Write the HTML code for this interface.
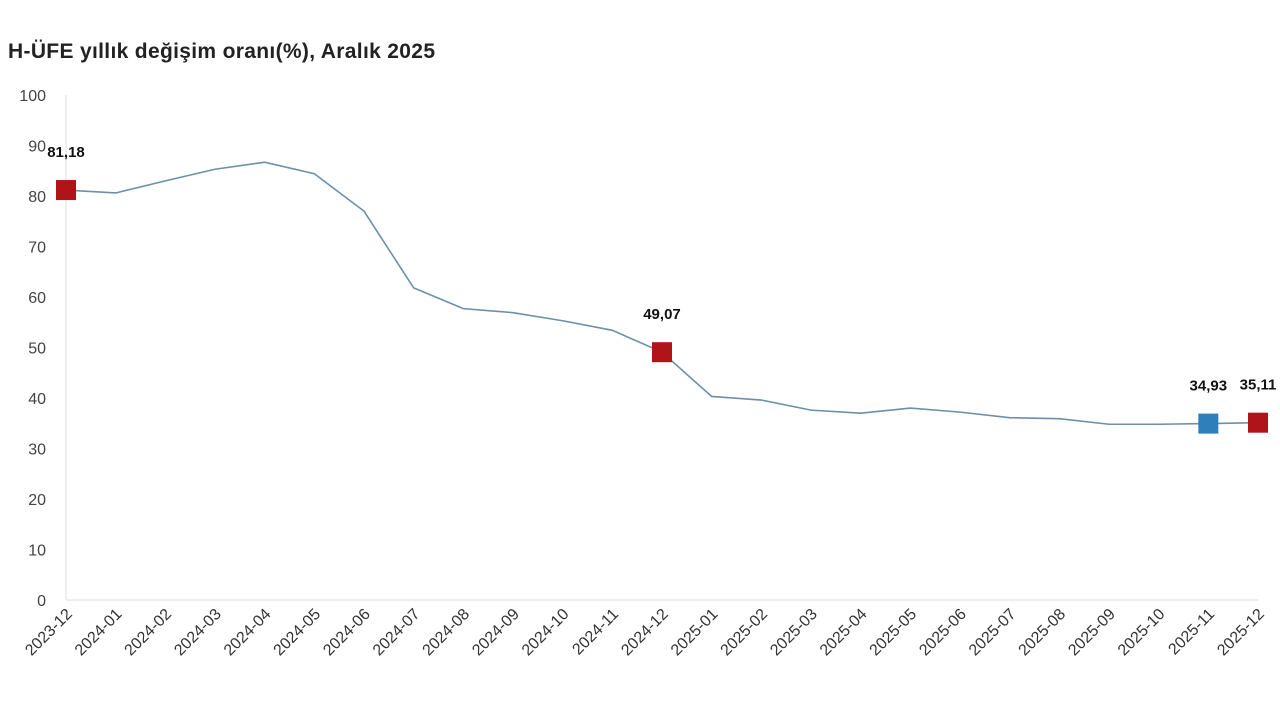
<!DOCTYPE html>
<html><head><meta charset="utf-8"><style>
body{margin:0;background:#fff;}
svg{display:block;font-family:"Liberation Sans",sans-serif;}
</style></head><body>
<svg id="c" width="1280" height="720">
<text x="8" y="58" font-size="21" font-weight="bold" fill="#222" textLength="427">H-ÜFE yıllık değişim oranı(%), Aralık 2025</text>
</svg>
<script>
const categories=["2023-12","2024-01","2024-02","2024-03","2024-04","2024-05","2024-06","2024-07","2024-08","2024-09","2024-10","2024-11","2024-12","2025-01","2025-02","2025-03","2025-04","2025-05","2025-06","2025-07","2025-08","2025-09","2025-10","2025-11","2025-12"];
const values=[81.18,80.6,83.0,85.3,86.7,84.4,77.0,61.8,57.7,56.9,55.3,53.4,49.07,40.3,39.6,37.6,37.0,38.0,37.2,36.1,35.9,34.8,34.8,34.93,35.11];
const yTicks=[0,10,20,30,40,50,60,70,80,90,100];
const markers=[{i:0,color:"#b01419",label:"81,18"},{i:12,color:"#b01419",label:"49,07"},{i:23,color:"#2f7fba",label:"34,93"},{i:24,color:"#b01419",label:"35,11"}];
const NS="http://www.w3.org/2000/svg",svg=document.getElementById('c');
const x0=66,x1=1258,y0=600,y100=95;
const xs=i=>x0+(x1-x0)*i/(categories.length-1);
const ys=v=>y0+(y100-y0)*v/100;
function mk(t,a,p){const e=document.createElementNS(NS,t);for(const k in a)e.setAttribute(k,a[k]);(p||svg).appendChild(e);return e;}
let ax=mk('line',{x1:x0,y1:ys(100),x2:x0,y2:y0,stroke:'#ddd'});


let bx=mk('line',{x1:x0,y1:y0,x2:x1,y2:y0,stroke:'#ddd'});


yTicks.forEach(v=>{const t=mk('text',{x:46,y:ys(v)+6,'font-size':16,fill:'#444','text-anchor':'end'});t.textContent=v;

});
categories.forEach((c,i)=>{const x=xs(i)+7,y=y0+15;const t=mk('text',{x:x,y:y,'font-size':16,fill:'#333','text-anchor':'end',transform:`rotate(-45 ${x} ${y})`});t.textContent=c;

});
const pl=mk('polyline',{points:values.map((v,i)=>xs(i)+','+ys(v)).join(' '),fill:'none',stroke:'#6a90ab','stroke-width':1.6});


markers.forEach(m=>{const x=xs(m.i),y=ys(values[m.i]);
const r=mk('rect',{x:x-10,y:y-10,width:20,height:20,fill:m.color});


const t=mk('text',{x:x,y:y-33,'font-size':15,'font-weight':'bold',fill:'#111','text-anchor':'middle'});t.textContent=m.label;

});
</script>
</body></html>
